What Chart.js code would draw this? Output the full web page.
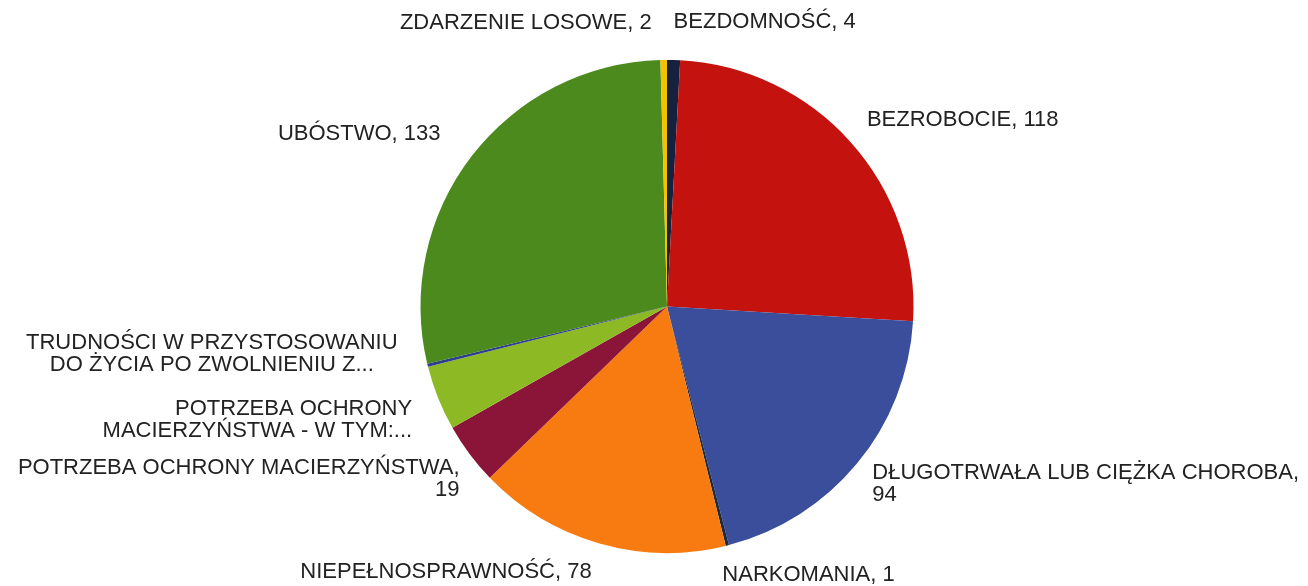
<!DOCTYPE html>
<html>
<head>
<meta charset="utf-8">
<script src="https://cdn.jsdelivr.net/npm/chart.js"></script>
<style>
    html, body { margin: 0; padding: 0; background: #fff; }
    #wrap { width: 1308px; height: 586px; }
</style>
</head>
<body>
<div id="wrap"><canvas id="chart"></canvas></div>
<script>
// data, clockwise from 12 o'clock
const categories = [
    'BEZDOMNOŚĆ',
    'BEZROBOCIE',
    'DŁUGOTRWAŁA LUB CIĘŻKA CHOROBA',
    'NARKOMANIA',
    'NIEPEŁNOSPRAWNOŚĆ',
    'POTRZEBA OCHRONY MACIERZYŃSTWA',
    'POTRZEBA OCHRONY MACIERZYŃSTWA - W TYM: WIELODZIETNOŚĆ',
    'TRUDNOŚCI W PRZYSTOSOWANIU DO ŻYCIA PO ZWOLNIENIU Z ZAKŁADU KARNEGO',
    'UBÓSTWO',
    'ZDARZENIE LOSOWE'
];
const values = [4, 118, 94, 1, 78, 19, 20, 1, 133, 2];

// text shown next to each slice (as in the picture, some are cut short)
const labelLines = [
    ['BEZDOMNOŚĆ, 4'],
    ['BEZROBOCIE, 118'],
    ['DŁUGOTRWAŁA LUB CIĘŻKA CHOROBA,', '94'],
    ['NARKOMANIA, 1'],
    ['NIEPEŁNOSPRAWNOŚĆ, 78'],
    ['POTRZEBA OCHRONY MACIERZYŃSTWA,', '19'],
    ['POTRZEBA OCHRONY', 'MACIERZYŃSTWA - W TYM:...'],
    ['TRUDNOŚCI W PRZYSTOSOWANIU', 'DO ŻYCIA PO ZWOLNIENIU Z...'],
    ['UBÓSTWO, 133'],
    ['ZDARZENIE LOSOWE, 2']
];

const colors = ['#16203f', '#c4130f', '#3b4e9b', '#1d2a3a', '#f77b10',
    '#8a1538', '#8dba24', '#2b3f8c', '#4c8a1d', '#f3c300'];

// per-label placement relative to the slice's outer mid point: [dx, dy, align]
const labelPlace = [
    [0, -38, 'left'],
    [16, -22, 'left'],
    [15, 10, 'left'],
    [-5, 29, 'left'],
    [-7, 29, 'right'],
    [-10, 14, 'right'],
    [-26, 11, 'right'],
    [-30, -22, 'center'],
    [-31, -22, 'right'],
    [-12, -37, 'right']
];

const sliceLabels = {
    id: 'sliceLabels',
    afterDatasetsDraw(chart) {
        const ctx = chart.ctx;
        const arcs = chart.getDatasetMeta(0).data;
        ctx.save();
        ctx.font = '22px "Liberation Sans", Arial, sans-serif';
        ctx.fillStyle = '#222';
        ctx.textBaseline = 'middle';
        ctx.textAlign = 'left';
        const lh = 22;
        arcs.forEach((arc, i) => {
            const mid = (arc.startAngle + arc.endAngle) / 2;
            const x = arc.x + Math.cos(mid) * arc.outerRadius + labelPlace[i][0];
            const y = arc.y + Math.sin(mid) * arc.outerRadius + labelPlace[i][1];
            const lines = labelLines[i];
            const align = labelPlace[i][2];
            let w = 0;
            lines.forEach(l => { w = Math.max(w, ctx.measureText(l).width); });
            lines.forEach((l, j) => {
                const lw = ctx.measureText(l).width;
                let lx = x;
                if (align === 'right') lx = x - lw;
                if (align === 'center') lx = x - w + (w - lw) / 2;
                ctx.fillText(l, lx, y + j * lh);
            });
        });
        ctx.restore();
    }
};

new Chart(document.getElementById('chart'), {
    type: 'pie',
    data: {
        labels: categories,
        datasets: [{
            data: values,
            backgroundColor: colors,
            borderWidth: 0
        }]
    },
    options: {
        responsive: true,
        maintainAspectRatio: false,
        animation: false,
        layout: { padding: { top: 60, bottom: 33, left: 26, right: 0 } },
        plugins: {
            legend: { display: false },
            tooltip: { enabled: false }
        }
    },
    plugins: [sliceLabels]
});
</script>
</body>
</html>
